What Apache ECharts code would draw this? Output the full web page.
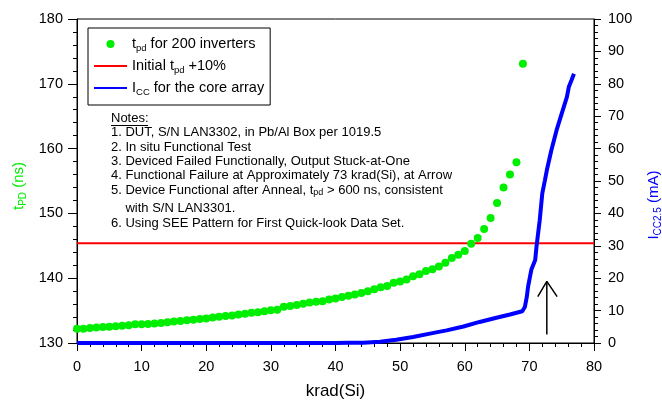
<!DOCTYPE html>
<html>
<head>
<meta charset="utf-8">
<script src="https://cdn.jsdelivr.net/npm/echarts@6/dist/echarts.min.js"></script>
<style>html,body{margin:0;padding:0;background:#fff;}#c{width:662px;height:401px;}</style>
</head>
<body>
<div id="c"></div>
<script>
// ---- data ----
var tpdDose = [0,1,2,3,4,5,6,7,8,9,10,11,12,13,14,15,16,17,18,19,20,21,22,23,24,25,26,27,28,29,30,31,32,33,34,35,36,37,38,39,40,41,42,43,44,45,46,47,48,49,50,51,52,53,54,55,56,57,58,59,60,61,62,63,64,65,66,67,68,69];
var tpdValues = [132.2,132.2,132.3,132.4,132.45,132.5,132.6,132.65,132.75,132.9,132.9,132.95,133.0,133.1,133.2,133.3,133.4,133.5,133.6,133.7,133.8,133.95,134.05,134.15,134.25,134.4,134.5,134.65,134.75,134.9,135.05,135.15,135.6,135.7,135.85,136.05,136.25,136.35,136.45,136.7,136.85,137.1,137.3,137.5,137.7,138.0,138.3,138.6,138.8,139.3,139.5,139.8,140.3,140.6,141.1,141.4,141.8,142.4,143.1,143.6,144.2,145.3,146.2,147.6,149.3,151.6,154.0,156.0,157.9,173.1];
var initialPlus10 = 145.4;
var iccDose = [0,40,42,44.3,46.9,49.4,52.0,54.6,57.2,59.8,62.3,64.9,67.0,68.9,69.3,69.6,69.8,70.3,70.9,71.1,71.6,72.0,72.4,72.7,73.4,74.2,75.0,75.8,76.1,76.5,76.9];
var iccValues = [0,0,0.05,0.1,0.4,1.0,1.85,2.9,3.9,5.1,6.5,7.8,8.8,9.8,11.1,14.2,17.4,22.6,25.6,29.7,37.9,46.2,50.2,53.3,59.5,65.6,70.8,75.9,79.0,81.0,83.1];
var arrowDose = [72.7];
var arrowShaftI = [2.6, 19];
var arrowHeadDose = [71.3, 72.7, 74.3];
var arrowHeadI = [14.3, 19, 14.3];
var xTicks = {min:0, max:80, interval:10};
var yLeftTicks = {min:130, max:180, interval:10};
var yRightTicks = {min:0, max:100, interval:10};
var notes = [
  '1. DUT, S/N LAN3302, in Pb/Al Box per 1019.5',
  '2. In situ Functional Test',
  '3. Deviced Failed Functionally, Output Stuck-at-One',
  '4. Functional Failure at Approximately 73 krad(Si), at Arrow',
  '5. Device Functional after Anneal, t{s|pd} > 600 ns, consistent',
  '    with S/N LAN3301.',
  '6. Using SEE Pattern for First Quick-look Data Set.'
];

// ---- build ----
var FF = 'Liberation Sans, Arial, sans-serif';
function zip(a, b) { return a.map(function (v, i) { return [v, b[i]]; }); }
var tpdData = zip(tpdDose, tpdValues);
var iccData = zip(iccDose, iccValues);
var redData = [[xTicks.min, initialPlus10], [xTicks.max, initialPlus10]];
var shaftData = [[arrowDose[0], arrowShaftI[0]], [arrowDose[0], arrowShaftI[1]]];
var headData = zip(arrowHeadDose, arrowHeadI);

var GREEN = '#00ee00', BLUE = '#0000ff', RED = '#ff0000';

var noteY = [133.5, 148.5, 163, 177.3, 192, 209.7, 225.3];
var graphics = [
  { type: 'text', left: 111, top: 112, style: { text: 'Notes:', fill: '#000', font: '13px ' + FF } },
  { type: 'line', shape: { x1: 111, y1: 125.5, x2: 148, y2: 125.5 }, style: { stroke: '#000', lineWidth: 1 } }
];
notes.forEach(function (t, i) {
  graphics.push({
    type: 'text', left: 111, top: noteY[i] - 8,
    style: {
      text: t, fill: '#000', font: '13px ' + FF,
      rich: { s: { fontSize: 9, fontFamily: FF, fill: '#000', verticalAlign: 'bottom', lineHeight: 8 } }
    }
  });
});

var legendNames = {
  tpd: '{a|t}{s|pd}{a| for 200 inverters}',
  init: '{a|Initial t}{s|pd}{a| +10%}',
  icc: '{a|I}{s|CC}{a| for the core array}'
};

var chart = echarts.init(document.getElementById('c'), null, { renderer: 'canvas' });
chart.setOption({
  animation: false,
  backgroundColor: '#fff',
  grid: { left: 77, right: 68, top: 19, bottom: 58, show: true, borderColor: '#000', borderWidth: 1, backgroundColor: 'transparent', containLabel: false, outerBoundsMode: 'none' },
  legend: {
    left: 88, top: 28, orient: 'vertical', padding: [7, 6, 8, 5],
    borderColor: '#000', borderWidth: 1, backgroundColor: '#fff',
    itemWidth: 33, itemHeight: 8, itemGap: 4,
    data: [
      { name: 'tpd', icon: 'circle' },
      { name: 'init', itemStyle: { opacity: 0 } },
      { name: 'icc', itemStyle: { opacity: 0 } }
    ],
    formatter: function (n) { return legendNames[n]; },
    textStyle: {
      color: '#000', fontFamily: FF, fontSize: 14.5, lineHeight: 18,
      rich: {
        a: { fontSize: 14.5, fontFamily: FF, color: '#000', lineHeight: 18 },
        s: { fontSize: 9.5, fontFamily: FF, color: '#000', verticalAlign: 'bottom', lineHeight: 8 }
      }
    },
    selectedMode: false
  },
  xAxis: {
    type: 'value', min: xTicks.min, max: xTicks.max, interval: xTicks.interval,
    name: 'krad(Si)', nameLocation: 'middle', nameGap: 40,
    nameTextStyle: { fontSize: 17, fontFamily: FF, color: '#000' },
    axisLine: { show: true, onZero: false, lineStyle: { color: '#000', width: 1 } },
    axisTick: { show: true, inside: false, length: 8, lineStyle: { color: '#000' } },
    minorTick: { show: true, splitNumber: 5, length: 4, lineStyle: { color: '#000' } },
    axisLabel: { fontSize: 14.5, fontFamily: FF, color: '#000', margin: 16 },
    splitLine: { show: false }
  },
  yAxis: [
    {
      type: 'value', position: 'left', min: yLeftTicks.min, max: yLeftTicks.max, interval: yLeftTicks.interval,
      name: '{m|t}{s|PD}{m| (ns)}', nameLocation: 'middle', nameGap: 48, nameRotate: 90,
      nameTextStyle: {
        color: GREEN, fontFamily: FF, fontSize: 15, padding: [0, 10, 0, 0],
        rich: {
          m: { color: GREEN, fontFamily: FF, fontSize: 15, lineHeight: 18 },
          s: { color: GREEN, fontFamily: FF, fontSize: 10, verticalAlign: 'bottom', lineHeight: 8 }
        }
      },
      axisLine: { show: true, lineStyle: { color: '#000', width: 1 } },
      axisTick: { show: true, length: 9, lineStyle: { color: '#000' } },
      minorTick: { show: true, splitNumber: 5, length: 4, lineStyle: { color: '#000' } },
      axisLabel: { fontSize: 14.5, fontFamily: FF, color: '#000', margin: 14 },
      splitLine: { show: false }
    },
    {
      type: 'value', position: 'right', min: yRightTicks.min, max: yRightTicks.max, interval: yRightTicks.interval,
      name: '{m|I}{s|CC2.5}{m| (mA)}', nameLocation: 'middle', nameGap: 51, nameRotate: 90,
      nameTextStyle: {
        color: BLUE, fontFamily: FF, fontSize: 15, padding: [0, 48, 0, 0],
        rich: {
          m: { color: BLUE, fontFamily: FF, fontSize: 15, lineHeight: 18 },
          s: { color: BLUE, fontFamily: FF, fontSize: 10, verticalAlign: 'bottom', lineHeight: 8 }
        }
      },
      axisLine: { show: true, lineStyle: { color: '#000', width: 1 } },
      axisTick: { show: true, length: 7, lineStyle: { color: '#000' } },
      minorTick: { show: true, splitNumber: 5, length: 4, lineStyle: { color: '#000' } },
      axisLabel: { fontSize: 14.5, fontFamily: FF, color: '#000', margin: 14 },
      splitLine: { show: false }
    }
  ],
  series: [
    {
      name: 'init', type: 'line', yAxisIndex: 0, data: redData, symbol: 'none', silent: true,
      lineStyle: { color: RED, width: 2 }, itemStyle: { color: RED }, z: 2
    },
    {
      name: 'icc', type: 'line', yAxisIndex: 1, data: iccData, symbol: 'none', silent: true,
      lineStyle: { color: BLUE, width: 4 }, itemStyle: { color: BLUE }, z: 3
    },
    {
      name: 'tpd', type: 'scatter', yAxisIndex: 0, data: tpdData, symbol: 'circle', symbolSize: 8,
      itemStyle: { color: GREEN, opacity: 1 }, z: 4, silent: true
    },
    {
      name: 'arrowShaft', type: 'line', yAxisIndex: 1, data: shaftData, symbol: 'none', silent: true,
      lineStyle: { color: '#000', width: 1.5 }, z: 5
    },
    {
      name: 'arrowHead', type: 'line', yAxisIndex: 1, data: headData, symbol: 'none', silent: true,
      lineStyle: { color: '#000', width: 1.5 }, z: 5
    }
  ],
  graphic: graphics
});
</script>
</body>
</html>
